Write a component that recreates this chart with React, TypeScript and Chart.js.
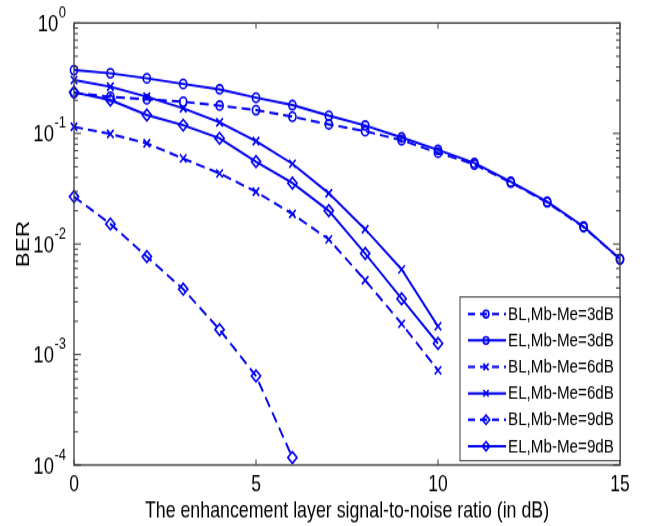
import React, { useEffect, useRef } from 'react';
import { Chart, registerables } from 'chart.js';

Chart.register(...registerables);

// ---- data ----
const snr15 = [0, 1, 2, 3, 4, 5, 6, 7, 8, 9, 10, 11, 12, 13, 14, 15];
const snr10 = [0, 1, 2, 3, 4, 5, 6, 7, 8, 9, 10];
const snr6 = [0, 1, 2, 3, 4, 5, 6];

const blMb3 = [0.233, 0.215, 0.204, 0.194, 0.179, 0.163, 0.142, 0.121, 0.105, 0.087, 0.067, 0.0525, 0.036, 0.0238, 0.0142, 0.0073];
const elMb3 = [0.375, 0.351, 0.316, 0.281, 0.251, 0.211, 0.181, 0.145, 0.118, 0.092, 0.071, 0.054, 0.0366, 0.0241, 0.0144, 0.0073];
const blMb6 = [0.115, 0.099, 0.0815, 0.0594, 0.0435, 0.0297, 0.0187, 0.011, 0.0047, 0.0019, 0.00072];
const elMb6 = [0.305, 0.265, 0.215, 0.169, 0.126, 0.0855, 0.0533, 0.0288, 0.0136, 0.0059, 0.0018];
const blMb9 = [0.0268, 0.0152, 0.0077, 0.0039, 0.00168, 0.00064, 0.000117];
const elMb9 = [0.236, 0.201, 0.147, 0.119, 0.0905, 0.0556, 0.0356, 0.02, 0.0082, 0.0032, 0.00126];

const seriesLabels = ['BL,Mb-Me=3dB', 'EL,Mb-Me=3dB', 'BL,Mb-Me=6dB', 'EL,Mb-Me=6dB', 'BL,Mb-Me=9dB', 'EL,Mb-Me=9dB'];
const xTickValues = [0, 5, 10, 15];
const yTickExponents = [0, -1, -2, -3, -4];
const xTitle = 'The enhancement layer signal-to-noise ratio (in dB)';
const yTitle = 'BER';

// ---- style ----
const FONT = '"Liberation Sans", Arial, Helvetica, sans-serif';
const BLUE = '#0000f0';
const STRETCH = 1.25;
const CW = 646;
const CH = 421;

type Marker = 'circle' | 'cross' | 'diamond';

function pts(xs: number[], ys: number[]) {
  return ys.map((v, i) => ({ x: xs[i], y: v }));
}

const seriesDefs: { xs: number[]; ys: number[]; dashed: boolean; marker: Marker }[] = [
  { xs: snr15, ys: blMb3, dashed: true, marker: 'circle' },
  { xs: snr15, ys: elMb3, dashed: false, marker: 'circle' },
  { xs: snr10, ys: blMb6, dashed: true, marker: 'cross' },
  { xs: snr10, ys: elMb6, dashed: false, marker: 'cross' },
  { xs: snr6, ys: blMb9, dashed: true, marker: 'diamond' },
  { xs: snr10, ys: elMb9, dashed: false, marker: 'diamond' },
];

const chartPointStyle: Record<Marker, string> = { circle: 'circle', cross: 'crossRot', diamond: 'rectRot' };
const markerRadius: Record<Marker, number> = { circle: 3.6, cross: 4.6, diamond: 4.6 };
const DASH = [9, 5];

function drawMarker(ctx: CanvasRenderingContext2D, m: Marker, cx: number, cy: number, scale: number) {
  const r = markerRadius[m] * scale;
  ctx.beginPath();
  if (m === 'circle') {
    ctx.arc(cx, cy, r, 0, Math.PI * 2);
  } else if (m === 'cross') {
    const d = r * Math.SQRT1_2;
    ctx.moveTo(cx - d, cy - d); ctx.lineTo(cx + d, cy + d);
    ctx.moveTo(cx + d, cy - d); ctx.lineTo(cx - d, cy + d);
  } else {
    ctx.moveTo(cx, cy - r); ctx.lineTo(cx + r, cy); ctx.lineTo(cx, cy + r); ctx.lineTo(cx - r, cy); ctx.closePath();
  }
  ctx.stroke();
}

const matlabAxes = {
  id: 'matlabAxes',
  afterDatasetsDraw(chart: any) {
    const { ctx, chartArea: a, scales } = chart;
    const x = scales.x;
    const y = scales.y;
    ctx.save();
    // box
    ctx.strokeStyle = '#3a3a3a';
    ctx.lineWidth = 1.3;
    ctx.setLineDash([]);
    ctx.strokeRect(a.left, a.top, a.right - a.left, a.bottom - a.top);
    ctx.lineWidth = 1;
    // x ticks (inward, top and bottom)
    ctx.beginPath();
    xTickValues.forEach((v) => {
      const px = x.getPixelForValue(v);
      ctx.moveTo(px, a.bottom); ctx.lineTo(px, a.bottom - 4.5);
      ctx.moveTo(px, a.top); ctx.lineTo(px, a.top + 4.5);
    });
    // y ticks (major + minor)
    for (let e = -4; e <= 0; e++) {
      for (let m = 1; m <= 9; m++) {
        const val = m * Math.pow(10, e);
        if (val > 1.0000001) break;
        const py = y.getPixelForValue(val);
        const len = m === 1 ? 7 : 4;
        ctx.moveTo(a.left, py); ctx.lineTo(a.left + len, py);
        ctx.moveTo(a.right, py); ctx.lineTo(a.right - len, py);
      }
    }
    ctx.stroke();

    // x tick labels
    ctx.fillStyle = '#000';
    ctx.font = `17.5px ${FONT}`;
    ctx.textAlign = 'center';
    ctx.textBaseline = 'alphabetic';
    xTickValues.forEach((v) => {
      ctx.fillText(String(v), x.getPixelForValue(v), a.bottom + 21.3);
    });

    // y tick labels: 10 with superscript exponent
    const labelRight = a.left - 8;
    yTickExponents.forEach((e) => {
      const py = y.getPixelForValue(Math.pow(10, e));
      const sup = String(e);
      ctx.font = `13px ${FONT}`;
      const supW = ctx.measureText(sup).width;
      ctx.textAlign = 'left';
      ctx.fillText(sup, labelRight - supW, py - 4.4);
      ctx.font = `18.5px ${FONT}`;
      ctx.textAlign = 'right';
      ctx.fillText('10', labelRight - supW - 0.5, py + 6.6);
    });

    // legend
    const lw = 160;
    const lh = 131;
    const lx = a.right - lw;
    const ly = a.bottom - 3.4 - lh;
    ctx.fillStyle = '#fff';
    ctx.fillRect(lx, ly, lw, lh);
    ctx.strokeStyle = '#3a3a3a';
    ctx.lineWidth = 1;
    ctx.strokeRect(lx, ly, lw, lh);
    const rowH = 21.15;
    chart.data.datasets.forEach((ds: any, i: number) => {
      const def = seriesDefs[i];
      const cy = ly + 13.6 + i * rowH;
      ctx.strokeStyle = BLUE;
      ctx.lineWidth = 2;
      ctx.setLineDash(def.dashed ? [7, 5] : []);
      ctx.beginPath();
      ctx.moveTo(lx + 8, cy);
      ctx.lineTo(lx + 46, cy);
      ctx.stroke();
      ctx.setLineDash([]);
      ctx.lineWidth = 1.6;
      drawMarker(ctx, def.marker, lx + 26, cy, 0.8);
      ctx.fillStyle = '#000';
      ctx.font = `15.2px ${FONT}`;
      ctx.textAlign = 'left';
      ctx.textBaseline = 'middle';
      ctx.fillText(ds.label, lx + 48, cy + 0.5);
    });
    ctx.restore();
  },
};

export default function App() {
  const ref = useRef<HTMLCanvasElement | null>(null);

  useEffect(() => {
    if (!ref.current) return;
    const datasets = seriesDefs.map((d, i) => ({
      label: seriesLabels[i],
      data: pts(d.xs, d.ys),
      borderColor: BLUE,
      backgroundColor: 'rgba(0,0,0,0)',
      borderWidth: 1.9,
      borderDash: d.dashed ? DASH : [],
      pointStyle: chartPointStyle[d.marker],
      pointRadius: markerRadius[d.marker],
      pointBorderWidth: 1.6,
      pointBorderColor: BLUE,
      pointBackgroundColor: 'rgba(0,0,0,0)',
      tension: 0,
      fill: false,
      clip: false as any,
    }));

    const chart = new Chart(ref.current, {
      type: 'line',
      data: { datasets },
      options: {
        responsive: false,
        animation: false,
        devicePixelRatio: 1,
        layout: { padding: { top: 18.4, right: 26, left: 0, bottom: 0 } },
        plugins: { legend: { display: false }, tooltip: { enabled: false } },
        scales: {
          x: {
            type: 'linear',
            min: 0,
            max: 15,
            grid: { display: false },
            border: { display: false },
            ticks: { display: false },
            title: {
              display: true,
              text: xTitle,
              color: '#000',
              font: { family: FONT, size: 17.8 },
              padding: { top: 0, bottom: 1.7 },
            },
            afterFit: (s: any) => { s.height = 49; },
          },
          y: {
            type: 'logarithmic',
            min: 1e-4,
            max: 1,
            grid: { display: false },
            border: { display: false },
            ticks: { display: false },
            title: {
              display: true,
              text: yTitle,
              color: '#000',
              font: { family: FONT, size: 18 },
              padding: { top: 13, bottom: 0 },
            },
            afterFit: (s: any) => { s.width = 74; },
          },
        },
      },
      plugins: [matlabAxes],
    } as any);
    return () => chart.destroy();
  }, []);

  return (
    <div style={{ position: 'absolute', left: 0, top: 0, width: 646, height: 526, overflow: 'hidden', background: '#fff' }}>
      <canvas
        ref={ref}
        width={CW}
        height={CH}
        style={{ display: 'block', width: CW, height: CH, transform: `scaleY(${STRETCH})`, transformOrigin: '0 0' }}
      />
    </div>
  );
}
